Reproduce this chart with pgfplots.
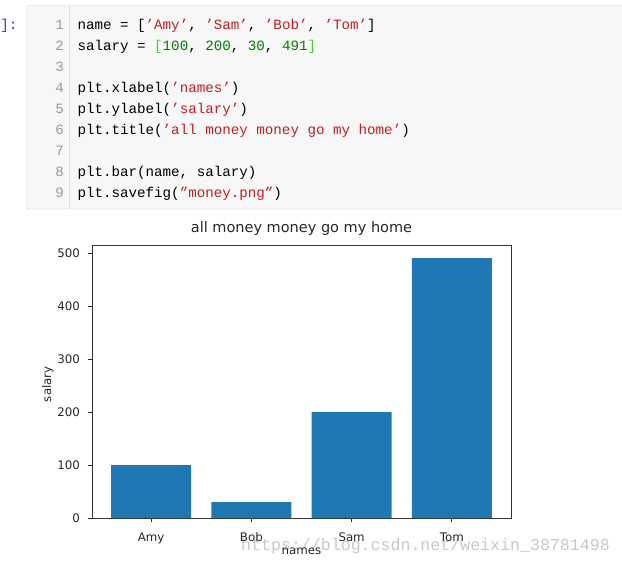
\documentclass[border=0pt]{standalone}
\usepackage{fontspec}
\setmainfont{DejaVu Sans}
\newfontfamily\codefont{Liberation Mono}
\usepackage{pgfplots}
\pgfplotsset{compat=1.18}
\definecolor{mplblue}{HTML}{1F77B4}
\definecolor{cellbg}{HTML}{F7F7F7}
\definecolor{cellborder}{HTML}{CFCFCF}
\definecolor{gutterline}{HTML}{DDDDDD}
\definecolor{lineno}{HTML}{999999}
\definecolor{codestr}{HTML}{BA2121}
\definecolor{codenum}{HTML}{008000}
\definecolor{codebrk}{HTML}{44CC33}
\definecolor{prompt}{HTML}{303F9F}
\definecolor{wmark}{HTML}{C8C8C8}
\newcommand{\cf}{\codefont\fontsize{14.2}{16}\selectfont}
\newcommand{\s}[1]{\textcolor{codestr}{#1}}
\newcommand{\nm}[1]{\textcolor{codenum}{#1}}
\begin{document}
\begin{tikzpicture}
  \useasboundingbox (0pt,0pt) rectangle (622pt,-565pt);
  % code cell
  \filldraw[fill=cellbg, draw=cellborder, rounded corners=2pt] (26.7pt,-5.7pt) rectangle (640pt,-209pt);
  \draw[gutterline] (69.3pt,-6.2pt) -- (69.3pt,-208.5pt);
  \node[anchor=base east, inner sep=0pt, text=prompt, font=\cf] at (17.5pt,-29.3pt) {]:};
  \foreach \n in {1,...,9}
    \node[anchor=base east, inner sep=0pt, text=lineno, font=\cf] at ({64pt},{-(29.3+(\n-1)*21)*1pt}) {\n};
  \node[anchor=base west, inner sep=0pt, font=\cf] at (77.3pt,-29.3pt)
    {name = [\s{’Amy’}, \s{’Sam’}, \s{’Bob’}, \s{’Tom’}]};
  \node[anchor=base west, inner sep=0pt, font=\cf] at (77.3pt,-50.3pt)
    {salary = \textcolor{codebrk}{[}\nm{100}, \nm{200}, \nm{30}, \nm{491}\textcolor{codebrk}{]}};
  \node[anchor=base west, inner sep=0pt, font=\cf] at (77.3pt,-92.3pt)
    {plt.xlabel(\s{’names’})};
  \node[anchor=base west, inner sep=0pt, font=\cf] at (77.3pt,-113.3pt)
    {plt.ylabel(\s{’salary’})};
  \node[anchor=base west, inner sep=0pt, font=\cf] at (77.3pt,-134.3pt)
    {plt.title(\s{’all money money go my home’})};
  \node[anchor=base west, inner sep=0pt, font=\cf] at (77.3pt,-176.3pt)
    {plt.bar(name, salary)};
  \node[anchor=base west, inner sep=0pt, font=\cf] at (77.3pt,-197.3pt)
    {plt.savefig(\s{”money.png”})};
  % watermark
  \node[anchor=base west, inner sep=0pt, text=wmark, font=\codefont\fontsize{16.6}{18}\selectfont]
    at (241pt,-550pt) {https://blog.csdn.net/weixin\_38781498};
  % chart
  \begin{axis}[
    at={(92pt,-518pt)}, anchor=south west,
    scale only axis, width=419pt, height=273pt,
    ybar, bar width=0.8,
    xmin=-0.59, xmax=3.59, ymin=0, ymax=515.55,
    xtick={0,1,2,3}, xticklabels={Amy,Bob,Sam,Tom},
    ytick={0,100,...,500},
    tick align=outside, xtick pos=left, ytick pos=left,
    major tick length=4pt,
    tick style={black!85, line width=0.9pt},
    axis line style={black!80, line width=0.9pt},
    ticklabel style={font=\fontsize{11.8}{14}\selectfont, text=black!85},
    /pgf/number format/assume math mode=true,
    xticklabel style={anchor=base, inner sep=0pt, yshift=-19pt},
    yticklabel style={anchor=east, inner sep=0pt, xshift=-8pt},
    title={all money money go my home},
    title style={at={(axis description cs:0.5,1.0256)}, anchor=base, inner sep=0pt,
      font=\fontsize{14.5}{17}\selectfont, text=black!85},
    xlabel={names},
    xlabel style={at={(axis description cs:0.5,-0.1355)}, anchor=base, inner sep=0pt,
      font=\fontsize{11.8}{14}\selectfont, text=black!85},
    ylabel={salary},
    ylabel style={at={(axis description cs:-0.0974,0.49)}, anchor=base, inner sep=0pt,
      font=\fontsize{11.8}{14}\selectfont, text=black!85},
  ]
    \addplot[fill=mplblue, draw=none] coordinates {(0,100) (1,30) (2,200) (3,491)};
  \end{axis}
\end{tikzpicture}
\end{document}
